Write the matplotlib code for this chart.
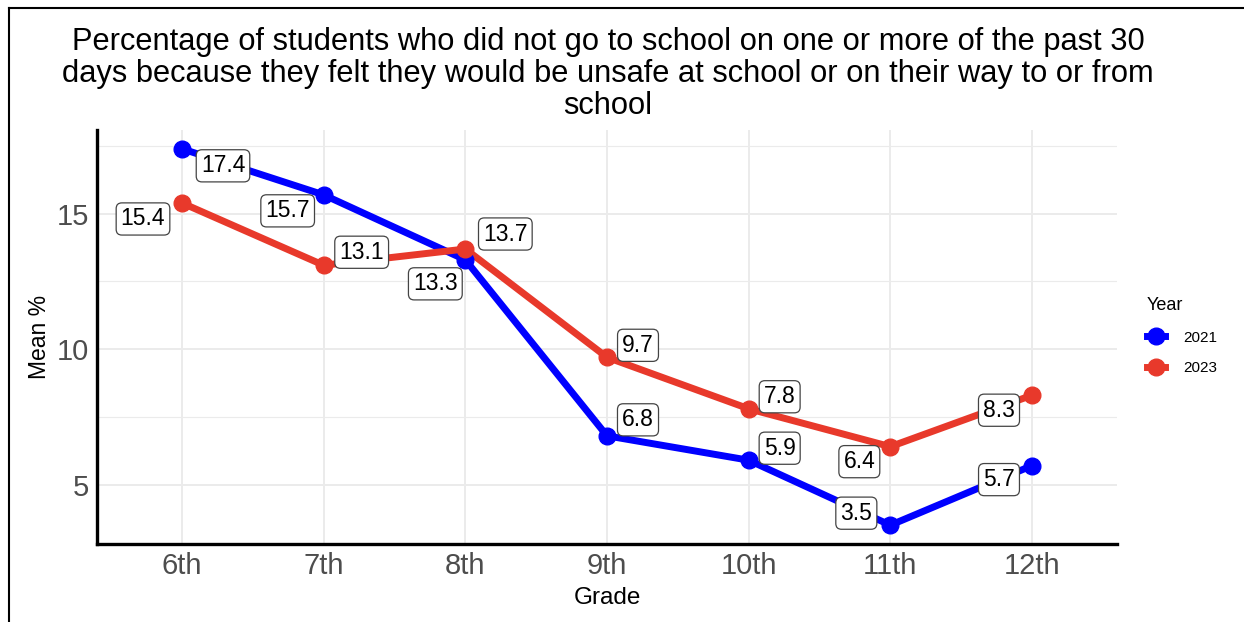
import matplotlib.pyplot as plt
from matplotlib.lines import Line2D

plt.rcParams['font.family'] = ['Liberation Sans', 'DejaVu Sans']

grades = ["6th", "7th", "8th", "9th", "10th", "11th", "12th"]
years = ["2021", "2023"]
mean_2021 = [17.4, 15.7, 13.3, 6.8, 5.9, 3.5, 5.7]
mean_2023 = [15.4, 13.1, 13.7, 9.7, 7.8, 6.4, 8.3]

colors = {"2021": "#0000FF", "2023": "#E8392B"}

# 标签偏移 (像素, 右/下为正)，模仿 ggrepel 的摆放
offsets_2021 = [(41, 17), (-36, 16), (-30, 24), (31, -16), (31, -12), (-34, -12), (-33, 14)]
offsets_2023 = [(-39, 16), (38, -13), (40, -15), (31, -12), (31, -12), (-31, 15), (-33, 15)]

fig = plt.figure(figsize=(12.44, 6.22), dpi=100)
ax = fig.add_axes([97 / 1244, 1 - 544 / 622, (1117 - 97) / 1244, (544 - 130) / 622])

x = list(range(len(grades)))
series = {"2021": mean_2021, "2023": mean_2023}
offsets = {"2021": offsets_2021, "2023": offsets_2023}

# 先画线再画点
for yr in years:
    ax.plot(x, series[yr], color=colors[yr], lw=5, solid_capstyle='butt', zorder=3)
for yr in years:
    ax.plot(x, series[yr], 'o', color=colors[yr], ms=12, zorder=4)

# 数值标签
for yr in years:
    for xi, val, (dx, dy) in zip(x, series[yr], offsets[yr]):
        ax.annotate(f"{val:.1f}", (xi, val), xytext=(dx * 0.72, -dy * 0.72),
                    textcoords='offset points', ha='center', va='center',
                    fontsize=16.5, color='black', zorder=6,
                    bbox=dict(boxstyle='round,pad=0.2,rounding_size=0.25',
                              fc='white', ec='#444444', lw=0.9))

ax.set_xlim(-0.6, len(grades) - 1 + 0.6)
ymin = min(mean_2021 + mean_2023)
ymax = max(mean_2021 + mean_2023)
pad = (ymax - ymin) * 0.05
ax.set_ylim(ymin - pad, ymax + pad)
ax.set_xticks(x)
ax.set_xticklabels(grades)
ax.set_yticks([5, 10, 15])
ax.set_yticks([7.5, 12.5, 17.5], minor=True)

ax.tick_params(axis='both', length=0, labelsize=21, labelcolor='#4d4d4d', pad=6)
ax.tick_params(axis='y', which='minor', length=0)
ax.grid(True, which='major', color='#ebebeb', lw=1.4, zorder=0)
ax.grid(True, which='minor', axis='y', color='#ebebeb', lw=0.8, zorder=0)
ax.set_axisbelow(True)

for side in ['top', 'right']:
    ax.spines[side].set_visible(False)
for side in ['left', 'bottom']:
    ax.spines[side].set_linewidth(2.4)
    ax.spines[side].set_color('black')

ax.set_xlabel("Grade", fontsize=17.5, labelpad=5)
ax.set_ylabel("Mean %", fontsize=16.5, labelpad=4)

fig.suptitle("Percentage of students who did not go to school on one or more of the past 30\n"
             "days because they felt they would be unsafe at school or on their way to or from\n"
             "school", x=608 / 1244, y=1 - 27 / 622, fontsize=22.2, va='top', linespacing=1.08)

# 图例
handles = [Line2D([0], [0], color=colors[yr], lw=5, marker='o', ms=12) for yr in years]
leg = fig.legend(handles, years, title="Year", loc='center left',
                 bbox_to_anchor=(1133 / 1244, 1 - 336 / 622), frameon=False,
                 fontsize=11, title_fontsize=13, handlelength=1.2, handletextpad=1.2,
                 labelspacing=1.1)
leg._legend_box.align = 'left'

# 外框（截图边框）
fig.add_artist(Line2D([9 / 1244, 9 / 1244], [0, 1 - 8 / 622], color='black', lw=1.5))
fig.add_artist(Line2D([9 / 1244, 1], [1 - 8 / 622, 1 - 8 / 622], color='black', lw=1.5))

fig.savefig("out.png", dpi=100)
